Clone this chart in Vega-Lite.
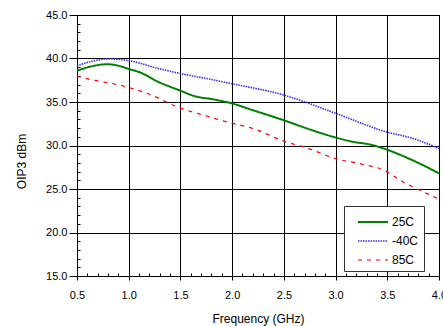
{
  "$schema": "https://vega.github.io/schema/vega-lite/v6.json",
  "autosize": {"type": "none"},
  "padding": {"left": 77, "top": 15, "right": 4, "bottom": 50},
  "width": 362,
  "height": 261,
  "background": "white",
  "config": {
    "font": "Liberation Sans",
    "view": {"stroke": "black", "strokeWidth": 1}
  },
  "title": {"text": "With Application Circuit", "fontSize": 13, "fontWeight": "bold", "offset": 9, "dx": -11, "color": "black"},
  "data": {"values": [
    {"f": 0.5, "v": 38.6, "s": "25C"},
    {"f": 0.66, "v": 39.15, "s": "25C"},
    {"f": 0.79, "v": 39.34, "s": "25C"},
    {"f": 0.89, "v": 39.2, "s": "25C"},
    {"f": 1.0, "v": 38.8, "s": "25C"},
    {"f": 1.11, "v": 38.4, "s": "25C"},
    {"f": 1.27, "v": 37.4, "s": "25C"},
    {"f": 1.5, "v": 36.3, "s": "25C"},
    {"f": 1.63, "v": 35.7, "s": "25C"},
    {"f": 1.82, "v": 35.3, "s": "25C"},
    {"f": 2.0, "v": 34.83, "s": "25C"},
    {"f": 2.2, "v": 34.06, "s": "25C"},
    {"f": 2.5, "v": 32.9, "s": "25C"},
    {"f": 2.75, "v": 31.85, "s": "25C"},
    {"f": 3.0, "v": 30.92, "s": "25C"},
    {"f": 3.17, "v": 30.42, "s": "25C"},
    {"f": 3.33, "v": 30.12, "s": "25C"},
    {"f": 3.49, "v": 29.55, "s": "25C"},
    {"f": 3.65, "v": 28.8, "s": "25C"},
    {"f": 3.81, "v": 27.94, "s": "25C"},
    {"f": 4.0, "v": 26.8, "s": "25C"},
    {"f": 0.5, "v": 39.15, "s": "-40C"},
    {"f": 0.69, "v": 39.8, "s": "-40C"},
    {"f": 0.79, "v": 39.95, "s": "-40C"},
    {"f": 1.0, "v": 39.76, "s": "-40C"},
    {"f": 1.27, "v": 38.9, "s": "-40C"},
    {"f": 1.5, "v": 38.27, "s": "-40C"},
    {"f": 1.75, "v": 37.7, "s": "-40C"},
    {"f": 2.0, "v": 37.1, "s": "-40C"},
    {"f": 2.5, "v": 35.8, "s": "-40C"},
    {"f": 3.0, "v": 33.7, "s": "-40C"},
    {"f": 3.49, "v": 31.57, "s": "-40C"},
    {"f": 3.75, "v": 30.8, "s": "-40C"},
    {"f": 4.0, "v": 29.66, "s": "-40C"},
    {"f": 0.5, "v": 37.96, "s": "85C"},
    {"f": 0.66, "v": 37.5, "s": "85C"},
    {"f": 0.85, "v": 37.1, "s": "85C"},
    {"f": 1.0, "v": 36.67, "s": "85C"},
    {"f": 1.18, "v": 35.98, "s": "85C"},
    {"f": 1.5, "v": 34.3, "s": "85C"},
    {"f": 1.72, "v": 33.5, "s": "85C"},
    {"f": 1.95, "v": 32.7, "s": "85C"},
    {"f": 2.2, "v": 31.96, "s": "85C"},
    {"f": 2.5, "v": 30.5, "s": "85C"},
    {"f": 2.72, "v": 29.73, "s": "85C"},
    {"f": 3.0, "v": 28.5, "s": "85C"},
    {"f": 3.27, "v": 27.82, "s": "85C"},
    {"f": 3.46, "v": 27.2, "s": "85C"},
    {"f": 3.65, "v": 25.83, "s": "85C"},
    {"f": 3.81, "v": 24.88, "s": "85C"},
    {"f": 4.0, "v": 23.84, "s": "85C"}
  ]},
  "resolve": {"axis": {"x": "independent", "y": "independent"}},
  "layer": [
    {
      "mark": {"type": "line", "interpolate": "monotone"},
      "encoding": {
        "x": {
          "field": "f", "type": "quantitative",
          "scale": {"domain": [0.5, 4.0], "nice": false, "zero": false},
          "axis": {
            "orient": "bottom", "title": "Frequency (GHz)", "titleFontSize": 12, "titleFontWeight": "normal", "titleColor": "black", "titlePadding": 13,
            "values": [0.5, 1.0, 1.5, 2.0, 2.5, 3.0, 3.5, 4.0], "format": ".1f",
            "labelFontSize": 11, "labelColor": "black", "labelPadding": 9,
            "domainColor": "black", "grid": true, "gridColor": "black", "gridOpacity": 1,
            "tickColor": "black", "tickSize": 4,
            "labelFlush": false, "labelOverlap": false
          }
        },
        "y": {
          "field": "v", "type": "quantitative",
          "scale": {"domain": [15, 45], "nice": false, "zero": false},
          "axis": {
            "orient": "left", "title": "OIP3 dBm", "titleFontSize": 12, "titleFontWeight": "normal", "titleColor": "black",
            "titleX": -52, "titleY": 146, "titleBaseline": "alphabetic", "titleAlign": "center", "titleAngle": -90,
            "values": [15, 20, 25, 30, 35, 40, 45], "format": ".1f",
            "labelFontSize": 11, "labelColor": "black", "labelPadding": 2,
            "domainColor": "black", "grid": true, "gridColor": "black", "gridOpacity": 1,
            "tickColor": "black", "tickSize": 8,
            "labelOverlap": false
          }
        },
        "color": {
          "field": "s", "type": "nominal",
          "scale": {"domain": ["25C", "-40C", "85C"], "range": ["#008000", "#3333ff", "#ff0000"]},
          "legend": {
            "title": null, "orient": "none", "legendX": 267, "legendY": 191,
            "fillColor": "white", "strokeColor": "#333", "padding": 5,
            "symbolType": "M-0.2,0H2.8", "symbolSize": 400, "symbolStrokeWidth": 2, "symbolFillColor": "transparent",
            "labelFontSize": 12, "labelColor": "black", "labelOffset": 21, "rowPadding": 2
          }
        },
        "strokeDash": {
          "field": "s", "type": "nominal",
          "scale": {"domain": ["25C", "-40C", "85C"], "range": [[1, 0], [1.5, 1], [4, 5]]},
          "legend": {
            "title": null, "orient": "none", "legendX": 267, "legendY": 191,
            "fillColor": "white", "strokeColor": "#333", "padding": 5,
            "symbolType": "M-0.2,0H2.8", "symbolSize": 400, "symbolStrokeWidth": 2, "symbolFillColor": "transparent",
            "labelFontSize": 12, "labelColor": "black", "labelOffset": 21, "rowPadding": 2
          }
        },
        "strokeWidth": {
          "field": "s", "type": "nominal",
          "scale": {"domain": ["25C", "-40C", "85C"], "range": [2, 1.2, 2.5]},
          "legend": null
        }
      }
    },
    {
      "mark": {"type": "point", "opacity": 0},
      "encoding": {
        "x": {
          "field": "f", "type": "quantitative",
          "axis": {
            "orient": "bottom", "title": null, "labels": false, "domain": false, "grid": false, "ticks": true,
            "values": [0.6,0.7,0.8,0.9,1.1,1.2,1.3,1.4,1.6,1.7,1.8,1.9,2.1,2.2,2.3,2.4,2.6,2.7,2.8,2.9,3.1,3.2,3.3,3.4,3.6,3.7,3.8,3.9],
            "offset": -3, "tickColor": "black", "tickSize": 3, "tickOpacity": 1, "tickWidth": 1
          }
        },
        "y": {
          "field": "v", "type": "quantitative",
          "axis": {
            "orient": "left", "title": null, "labels": false, "domain": false, "grid": false, "ticks": true,
            "values": [16,17,18,19,21,22,23,24,26,27,28,29,31,32,33,34,36,37,38,39,41,42,43,44],
            "offset": -3, "tickColor": "black", "tickSize": 3, "tickOpacity": 1, "tickWidth": 1
          }
        }
      }
    }
  ]
}
